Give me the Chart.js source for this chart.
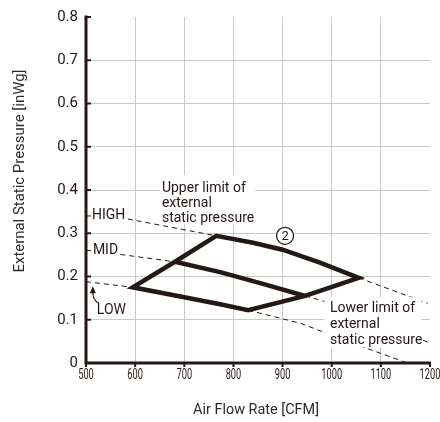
<!DOCTYPE html>
<html>
<head>
<meta charset="utf-8">
<script src="https://cdn.jsdelivr.net/npm/chart.js@4.4.1/dist/chart.umd.min.js"></script>
<style>
  html, body { margin: 0; padding: 0; background: #fff; }
  #wrap { width: 440px; height: 422px; position: relative; }
</style>
</head>
<body>
<div id="wrap"><canvas id="fanChart"></canvas></div>
<script>
// Axis ranges and tick labels
const xTickValues = [500, 600, 700, 800, 900, 1000, 1100, 1200];
const yTickValues = [0, 0.1, 0.2, 0.3, 0.4, 0.5, 0.6, 0.7, 0.8];

// Fan curves inside the operating range [CFM, inWg]
const highCurve = [[765, 0.294], [840, 0.278], [900, 0.262], [976, 0.232], [1055, 0.197]];
const midCurve  = [[681, 0.234], [773, 0.210], [860, 0.183], [946, 0.155]];
const lowCurve  = [[595, 0.175], [700, 0.152], [773, 0.136], [830, 0.122]];

// Range edges: upper limit (left side) and lower limit (right side) of static pressure
const upperLimitEdge = [[595, 0.175], [681, 0.234], [765, 0.294]];
const lowerLimitEdge = [[830, 0.122], [946, 0.155], [1055, 0.197]];

// Fan curves outside the operating range (dashed)
const highDashLeft  = [[585, 0.333], [765, 0.294]];
const highDashRight = [[1055, 0.197], [1195, 0.138]];
const midDashLeft   = [[570, 0.251], [681, 0.234]];
const midDashRight  = [[946, 0.155], [993, 0.140], [1196, 0.048]];
const lowDashLeft   = [[500, 0.188], [595, 0.175]];
const lowDashRight  = [[830, 0.122], [936, 0.092], [1064, 0.037], [1154, 0]];

const INK = '#231815';
const GRID = '#c9c9c9';
const FONT = 'Roboto, "Noto Sans", sans-serif';

const toPts = arr => arr.map(([x, y]) => ({ x, y }));

// Closed outline of the operating range, retracing the first edge so every corner gets a mitred join
const outline = [
  ...upperLimitEdge,
  ...highCurve.slice(1),
  ...lowerLimitEdge.slice(0, -1).reverse(),
  ...lowCurve.slice(0, -1).reverse(),
  upperLimitEdge[1]
];

const solid = (data) => ({
  data: toPts(data), showLine: true, pointRadius: 0, borderColor: INK, borderWidth: 4.5,
  borderJoinStyle: 'miter', borderCapStyle: 'butt', fill: false, tension: 0, order: 0
});
const dashed = (data) => ({
  data: toPts(data), showLine: true, pointRadius: 0, borderColor: INK, borderWidth: 1,
  borderDash: [5, 4], fill: false, tension: 0, order: 1
});

function text(ctx, str, x, y, size, opts = {}) {
  ctx.save();
  ctx.font = `${size}px ${FONT}`;
  ctx.fillStyle = opts.color || INK;
  ctx.textAlign = opts.align || 'left';
  ctx.textBaseline = 'middle';
  if (opts.maxWidth) ctx.fillText(str, x, y, opts.maxWidth); else ctx.fillText(str, x, y);
  ctx.restore();
}

const decorations = {
  id: 'decorations',
  afterDatasetsDraw(chart) {
    const { ctx, scales: { x: sx, y: sy } } = chart;
    const X = v => sx.getPixelForValue(v);
    const Y = v => sy.getPixelForValue(v);

    // "Upper limit of external static pressure"
    ctx.save();
    ctx.fillStyle = '#fff';
    ctx.fillRect(X(651), Y(0.4345), X(844) - X(651), Y(0.322) - Y(0.4345));
    ctx.fillRect(X(985), Y(0.152), X(1183) - X(985), Y(0.037) - Y(0.152));
    ctx.restore();
    const ux = X(654.5), uy = Y(0.4046);
    ['Upper limit of', 'external', 'static pressure'].forEach((s, i) => text(ctx, s, ux, uy + i * 15, 14));

    // "Lower limit of external static pressure"
    const lx = X(996.5), ly = Y(0.126);
    ['Lower limit of', 'external', 'static pressure'].forEach((s, i) => text(ctx, s, lx, ly + i * 16, 14));

    // Circled model number
    const cx = X(905), cy = Y(0.294);
    ctx.save();
    ctx.beginPath();
    ctx.arc(cx, cy, 8.5, 0, Math.PI * 2);
    ctx.fillStyle = '#fff';
    ctx.fill();
    ctx.lineWidth = 1.3;
    ctx.strokeStyle = INK;
    ctx.stroke();
    ctx.restore();
    text(ctx, '2', cx, cy + 0.5, 13, { align: 'center' });

    // Fan speed labels
    text(ctx, 'HIGH', X(512), Y(0.340), 14);
    text(ctx, 'MID', X(514), Y(0.260), 14);
    const lowX = X(522), lowY = Y(0.122);
    text(ctx, 'LOW', lowX, lowY, 14);

    // Arrow pointing from LOW up to its curve
    ctx.save();
    ctx.strokeStyle = INK;
    ctx.fillStyle = INK;
    ctx.lineWidth = 1.2;
    ctx.beginPath();
    ctx.moveTo(lowX + 2, lowY - 7);
    ctx.quadraticCurveTo(lowX - 4, lowY - 10, lowX - 4, lowY - 18);
    ctx.stroke();
    ctx.beginPath();
    ctx.moveTo(lowX - 4, lowY - 24);
    ctx.lineTo(lowX - 7, lowY - 17);
    ctx.lineTo(lowX - 1, lowY - 17);
    ctx.closePath();
    ctx.fill();
    ctx.restore();
  },
  afterDraw(chart) {
    const { ctx, chartArea: a, scales: { x: sx, y: sy } } = chart;
    const X = v => sx.getPixelForValue(v);
    const Y = v => sy.getPixelForValue(v);
    ctx.save();
    ctx.strokeStyle = INK;

    // Tick marks: inward on the pressure axis, downward on the flow axis
    ctx.lineWidth = 2;
    yTickValues.forEach(v => {
      ctx.beginPath(); ctx.moveTo(a.left, Y(v)); ctx.lineTo(a.left + 5, Y(v)); ctx.stroke();
    });
    xTickValues.forEach(v => {
      ctx.beginPath(); ctx.moveTo(X(v), a.bottom); ctx.lineTo(X(v), a.bottom + 4); ctx.stroke();
    });
    ctx.lineWidth = 1;
    [0.340, 0.260].forEach(v => {
      ctx.beginPath(); ctx.moveTo(a.left, Y(v)); ctx.lineTo(a.left + 5, Y(v)); ctx.stroke();
    });

    // Axis lines
    ctx.lineWidth = 3;
    ctx.beginPath();
    ctx.moveTo(a.left, a.top - 1.5);
    ctx.lineTo(a.left, a.bottom + 1.5);
    ctx.moveTo(a.left - 1.5, a.bottom);
    ctx.lineTo(a.right + 1, a.bottom);
    ctx.stroke();
    ctx.restore();

    // Flow-rate tick labels (narrow figures)
    xTickValues.forEach(v => {
      const s = String(v);
      ctx.save();
      ctx.font = `14px ${FONT}`;
      const w = ctx.measureText(s).width * 0.66;
      ctx.restore();
      text(ctx, s, X(v), a.bottom + 12, 14, { align: 'center', maxWidth: w });
    });

    // Axis titles
    text(ctx, 'Air Flow Rate [CFM]', 256, 410, 15, { align: 'center', maxWidth: 126, color: '#2b2b2b' });
    ctx.save();
    ctx.translate(20, 171);
    ctx.rotate(-Math.PI / 2);
    text(ctx, 'External Static Pressure [inWg]', 0, 0, 15, { align: 'center', maxWidth: 203, color: '#2b2b2b' });
    ctx.restore();
  }
};

new Chart(document.getElementById('fanChart'), {
  type: 'scatter',
  data: {
    datasets: [
      solid(outline),
      solid(midCurve),
      dashed(highDashLeft),
      dashed(highDashRight),
      dashed(midDashLeft),
      dashed(midDashRight),
      dashed(lowDashLeft),
      dashed(lowDashRight)
    ]
  },
  options: {
    responsive: true,
    maintainAspectRatio: false,
    animation: false,
    events: [],
    layout: { padding: { top: 15, right: 10, left: 0, bottom: 0 } },
    plugins: { legend: { display: false }, tooltip: { enabled: false } },
    scales: {
      x: {
        type: 'linear',
        min: xTickValues[0],
        max: xTickValues[xTickValues.length - 1],
        afterBuildTicks: s => { s.ticks = xTickValues.map(value => ({ value })); },
        afterFit: s => { s.height = 59; },
        ticks: { display: false },
        border: { display: false },
        grid: {
          drawTicks: false,
          lineWidth: 1,
          color: c => (c.tick && (c.tick.value === xTickValues[0] || c.tick.value === xTickValues[xTickValues.length - 1])) ? 'rgba(0,0,0,0)' : GRID
        }
      },
      y: {
        type: 'linear',
        min: yTickValues[0],
        max: yTickValues[yTickValues.length - 1],
        afterBuildTicks: s => { s.ticks = yTickValues.map(value => ({ value })); },
        afterFit: s => { s.width = 86; },
        ticks: {
          padding: 8,
          color: INK,
          font: { family: FONT, size: 15 },
          callback: v => String(v)
        },
        border: { display: false },
        grid: {
          drawTicks: false,
          lineWidth: 1,
          color: c => (c.tick && (c.tick.value === yTickValues[0] || c.tick.value === yTickValues[yTickValues.length - 1])) ? 'rgba(0,0,0,0)' : GRID
        }
      }
    }
  },
  plugins: [decorations]
});
</script>
</body>
</html>
